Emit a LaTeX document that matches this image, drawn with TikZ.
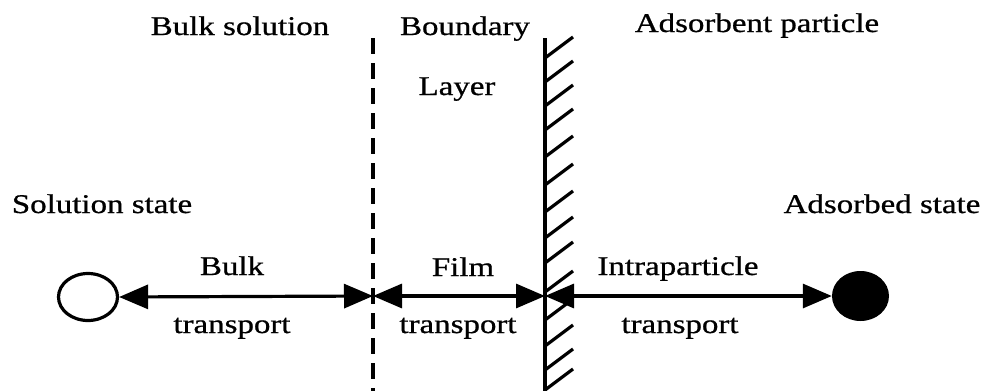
\documentclass[tikz,border=0pt]{standalone}
\usepackage{fontspec}
\setmainfont{Liberation Serif}[UprightFeatures={FakeBold=0.7}]
\usetikzlibrary{arrows.meta,shapes.geometric}
\newcommand{\sx}[1]{\scalebox{1.22}[1]{#1}}
\tikzset{
  lbl/.style={inner sep=0pt, anchor=base, font=\fontsize{27}{31}\selectfont},
  arr/.style={line width=3.2pt, {Triangle[length=29pt,width=24pt]}-{Triangle[length=29pt,width=24pt]}},
  hatch/.style={line width=3.2pt},
}
\begin{document}
\begin{tikzpicture}[x=1pt,y=-1pt]
\useasboundingbox (0,0) rectangle (986,391);
% states
\node[draw, ellipse, line width=3.2pt, minimum width=59pt, minimum height=47pt, inner sep=0pt] (sol) at (88,297) {};
\node[fill, ellipse, minimum width=57pt, minimum height=50pt, inner sep=0pt] (ads) at (860.5,296) {};
% dashed boundary
\coordinate (dtop) at (373,38);
\coordinate (dbot) at (373,391);
\coordinate (dmid) at (373,296);
\draw[line width=4pt, dash pattern=on 16pt off 9pt] (dtop) -- (dbot);
% wall
\coordinate (wtop) at (545,38);
\coordinate (wbot) at (545,391);
\coordinate (wmid) at (545,296);
\draw[line width=4.8pt] (wtop) -- (wbot);
\foreach \y in {58,82,106,130,157,185,212,238,263,292,320,346,370,390}
  \draw[hatch] (545,\y) -- ++(28,-21);
% arrows
\draw[arr] (sol.east) -- (dmid);
\draw[arr] (dmid) -- (wmid);
\draw[arr] (wmid) -- (ads.west);
% labels
\node[lbl] (t1) at (240,35) {\sx{Bulk solution}};
\node[lbl] (t2) at (465,35) {\sx{Boundary}};
\node[lbl] (t3) at (757,32) {\sx{Adsorbent particle}};
\node[lbl] (t4) at (457,95) {\sx{Layer}};
\node[lbl] (t5) at (102,213) {\sx{Solution state}};
\node[lbl] (t6) at (882,213) {\sx{Adsorbed state}};
\node[lbl] (t7) at (232,275) {\sx{Bulk}};
\node[lbl] (t8) at (232,333) {\sx{transport}};
\node[lbl] (t9) at (463,276) {\sx{Film}};
\node[lbl] (t10) at (458,333) {\sx{transport}};
\node[lbl] (t11) at (678,275) {\sx{Intraparticle}};
\node[lbl] (t12) at (680,333) {\sx{transport}};
\end{tikzpicture}
\end{document}
